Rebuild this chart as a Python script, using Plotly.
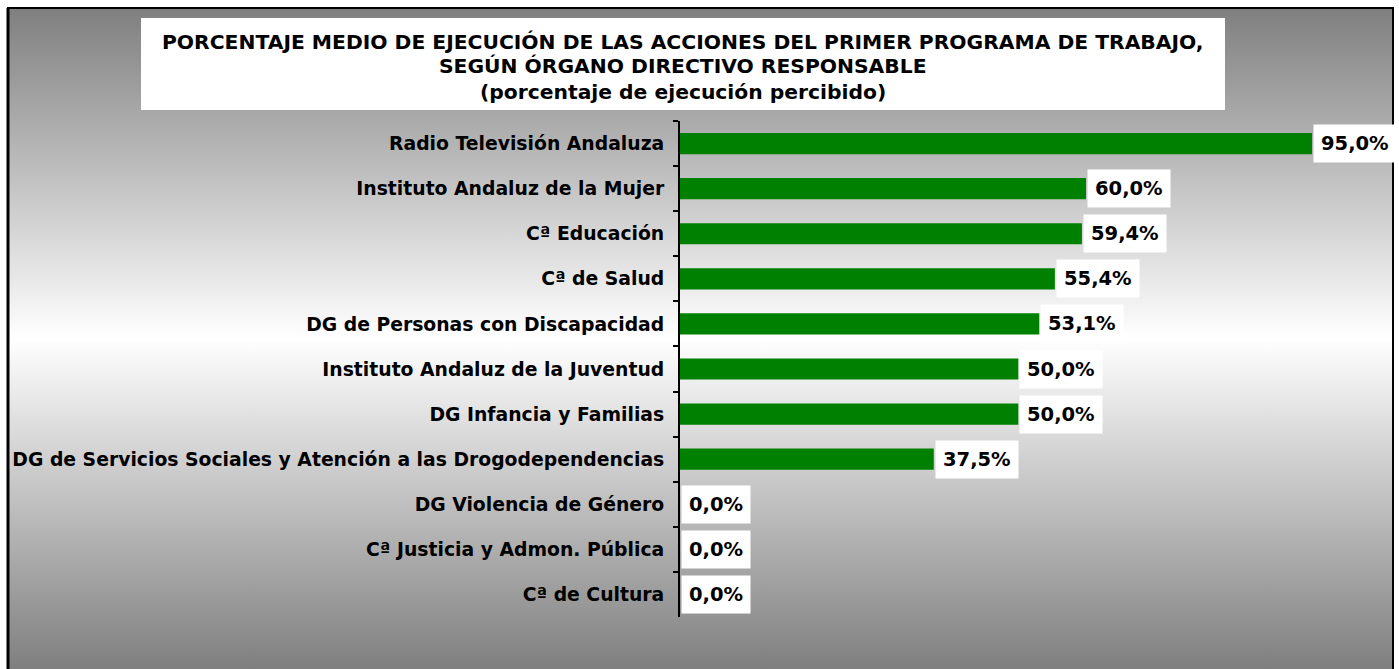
import base64
import plotly.graph_objects as go

categories = [
    "Radio Televisión Andaluza",
    "Instituto Andaluz de la Mujer",
    "Cª Educación",
    "Cª de Salud",
    "DG de Personas con Discapacidad",
    "Instituto Andaluz de la Juventud",
    "DG Infancia y Familias",
    "DG de Servicios Sociales y Atención a las Drogodependencias",
    "DG Violencia de Género",
    "Cª Justicia y Admon. Pública",
    "Cª de Cultura",
]
values = [95.0, 60.0, 59.4, 55.4, 53.1, 50.0, 50.0, 37.5, 0.0, 0.0, 0.0]
value_labels = ["95,0%", "60,0%", "59,4%", "55,4%", "53,1%", "50,0%", "50,0%", "37,5%", "0,0%", "0,0%", "0,0%"]
title_lines = [
    "PORCENTAJE MEDIO DE EJECUCIÓN DE LAS ACCIONES DEL PRIMER PROGRAMA DE TRABAJO,",
    "SEGÚN ÓRGANO DIRECTIVO RESPONSABLE",
    "(porcentaje de ejecución percibido)",
]

W, H = 1399, 669
L, R, T, B = 680, 87, 121, 52
PW, PH = W - L - R, H - T - B
XMAX = 93.4

def px(x):
    return (x - L) / PW

def py(y):
    return (H - B - y) / PH

FONT = "DejaVu Sans"
GREEN = "#008000"

svg = ("<svg xmlns='http://www.w3.org/2000/svg' width='100' height='100' viewBox='0 0 100 100' "
       "preserveAspectRatio='none'><defs><linearGradient id='g' x1='0' y1='0' x2='0' y2='1'>"
       "<stop offset='0' stop-color='#7f7f7f'/><stop offset='0.5' stop-color='#ffffff'/>"
       "<stop offset='1' stop-color='#7f7f7f'/></linearGradient></defs>"
       "<rect width='100' height='100' fill='url(#g)'/></svg>")
svg_uri = "data:image/svg+xml;base64," + base64.b64encode(svg.encode()).decode()

fig = go.Figure()
fig.add_trace(go.Bar(
    y=categories, x=values, orientation="h",
    marker=dict(color=GREEN, line=dict(width=0)),
    hoverinfo="skip", showlegend=False,
))

annotations = []
for c, v, t in zip(categories, values, value_labels):
    annotations.append(dict(
        x=min(v, XMAX), y=c, xref="x", yref="y", text="<b>" + t + "</b>",
        showarrow=False, xanchor="left", yanchor="middle", xshift=1,
        bgcolor="white", borderpad=7,
        font=dict(family=FONT, size=19.5, color="black"),
    ))

title_y = [42, 66, 92]
for line, yy in zip(title_lines, title_y):
    annotations.append(dict(
        x=px(683), y=py(yy), xref="paper", yref="paper", text="<b>" + line + "</b>",
        showarrow=False, xanchor="center", yanchor="middle",
        font=dict(family=FONT, size=20.3, color="black"),
    ))

shapes = [
    dict(type="rect", xref="paper", yref="paper", x0=px(141), x1=px(1225), y0=py(110), y1=py(18),
         fillcolor="white", line=dict(width=0), layer="below"),
    dict(type="rect", xref="paper", yref="paper", x0=px(8), x1=px(1393), y0=py(H + 10), y1=py(8),
         fillcolor="rgba(0,0,0,0)", line=dict(color="black", width=2), layer="above"),
    dict(type="line", xref="paper", yref="paper", x0=px(8), x1=px(8), y0=py(H + 10), y1=py(8),
         line=dict(color="black", width=3), layer="above"),
]

fig.update_layout(
    width=W, height=H,
    margin=dict(l=L, r=R, t=T, b=B, pad=0),
    paper_bgcolor="white", plot_bgcolor="rgba(0,0,0,0)",
    bargap=0.53,
    annotations=annotations,
    shapes=shapes,
    images=[dict(source=svg_uri, xref="paper", yref="paper", x=px(8), y=py(8),
                 sizex=px(1393) - px(8), sizey=py(8) - py(H), xanchor="left", yanchor="top",
                 sizing="stretch", layer="below")],
    xaxis=dict(range=[0, XMAX], visible=False, fixedrange=True),
    yaxis=dict(
        autorange="reversed", type="category",
        showline=True, linecolor="black", linewidth=2,
        ticks="outside", ticklen=5, tickwidth=2, tickcolor="black",
        tickson="boundaries", ticklabelstandoff=10,
        tickfont=dict(family=FONT, size=18.8, color="black", weight="bold"),
        showgrid=False, zeroline=False, fixedrange=True,
    ),
    font=dict(family=FONT),
)

fig.write_html("out.html", post_script="document.body.style.margin='0';document.body.style.overflow='hidden';",
               config={"displayModeBar": False})
